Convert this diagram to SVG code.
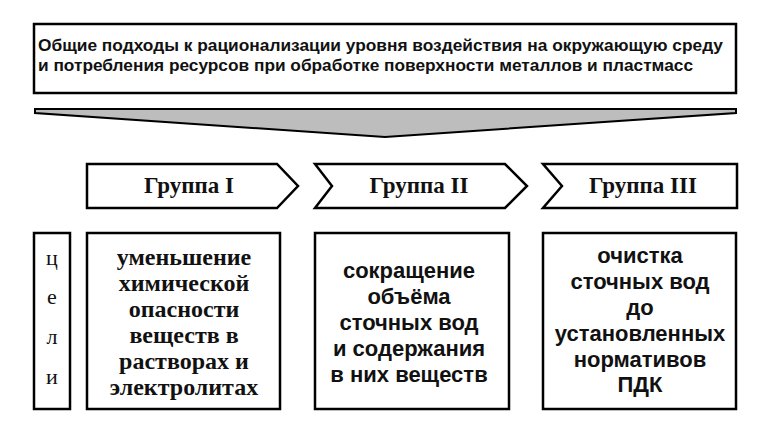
<svg xmlns="http://www.w3.org/2000/svg" width="777" height="427" viewBox="0 0 777 427">
<style>
.box{fill:#fff;stroke:#000;stroke-width:2.5}
.hdr{font-family:"Liberation Sans",Arial,sans-serif;font-weight:bold;font-size:16.5px;fill:#111}
.grp{font-family:"Liberation Serif","Times New Roman",serif;font-weight:bold;font-size:23px;fill:#111;text-anchor:middle}
.ser{font-family:"Liberation Serif","Times New Roman",serif;font-weight:bold;font-size:24px;fill:#111;text-anchor:middle}
.san{font-family:"Liberation Sans",Arial,sans-serif;font-weight:bold;font-size:22px;fill:#111;text-anchor:middle}
.goal{font-family:"Liberation Serif","Times New Roman",serif;font-size:22px;fill:#111;text-anchor:middle}
</style>
<rect width="777" height="427" fill="#fff"/>
<g id="header">
<rect class="box" x="34" y="24" width="702" height="69" stroke-width="2"/>
<text class="hdr" x="38" y="51" textLength="685" lengthAdjust="spacingAndGlyphs">Общие подходы к рационализации уровня воздействия на окружающую среду</text>
<text class="hdr" x="38" y="71" textLength="655" lengthAdjust="spacingAndGlyphs">и потребления ресурсов при обработке поверхности металлов и пластмасс</text>
</g>
<g id="connectors">
<polygon points="35,109 736,109 736,113 385,137 35,113" fill="#bdbdbd" stroke="#000" stroke-width="2" stroke-linejoin="miter"/>
</g>
<g id="group1">
<polygon class="box" points="87,164 277,164 298,186 277,208 87,208"/>
<text class="grp" x="189" y="193">Группа I</text>
</g>
<g id="group2">
<polygon class="box" points="315,164 505,164 527,186 505,208 315,208 332,186"/>
<text class="grp" x="419" y="193">Группа II</text>
</g>
<g id="group3">
<polygon class="box" points="543,164 737,164 737,208 543,208 562,186"/>
<text class="grp" x="643" y="193">Группа III</text>
</g>
<g id="goals">
<rect class="box" x="34" y="233" width="36" height="176"/>
<text class="goal" x="52" y="265">ц</text>
<text class="goal" x="52" y="304">е</text>
<text class="goal" x="52" y="344">л</text>
<text class="goal" x="52" y="384">и</text>
</g>
<g id="goal1">
<rect class="box" x="87" y="233" width="193" height="176"/>
<text class="ser" x="184" y="265">уменьшение</text>
<text class="ser" x="184" y="291">химической</text>
<text class="ser" x="184" y="317">опасности</text>
<text class="ser" x="184" y="343">веществ в</text>
<text class="ser" x="184" y="369">растворах и</text>
<text class="ser" x="184" y="395">электролитах</text>
</g>
<g id="goal2">
<rect class="box" x="315" y="233" width="194" height="176"/>
<text class="san" x="409" y="278">сокращение</text>
<text class="san" x="409" y="304">объёма</text>
<text class="san" x="409" y="330">сточных вод</text>
<text class="san" x="409" y="356">и содержания</text>
<text class="san" x="409" y="382">в них веществ</text>
</g>
<g id="goal3">
<rect class="box" x="543" y="233" width="193" height="176"/>
<text class="san" x="640" y="263">очистка</text>
<text class="san" x="640" y="289">сточных вод</text>
<text class="san" x="640" y="315">до</text>
<text class="san" x="640" y="341">установленных</text>
<text class="san" x="640" y="367">нормативов</text>
<text class="san" x="640" y="392">ПДК</text>
</g>
</svg>
